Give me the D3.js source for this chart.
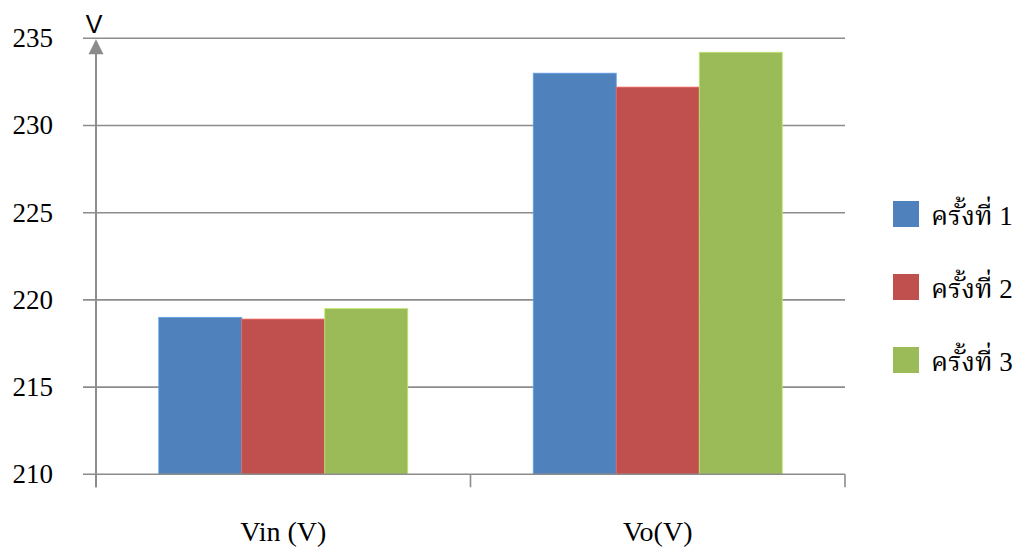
<!DOCTYPE html>
<html>
<head>
<meta charset="utf-8">
<script src="https://cdn.jsdelivr.net/npm/d3@7"></script>
<style>
  html, body { margin: 0; padding: 0; background: #fff; }
  svg { display: block; }
</style>
</head>
<body>
<svg id="chart" width="1019" height="547"></svg>
<script>
// Measurement categories and the three trial series (volts)
const categories = ["Vin (V)", "Vo(V)"];
const seriesNames = ["ครั้งที่ 1", "ครั้งที่ 2", "ครั้งที่ 3"];
const trial1 = [219.0, 233.0];
const trial2 = [218.9, 232.2];
const trial3 = [219.5, 234.2];
const yTicks = [210, 215, 220, 225, 230, 235];
const colors = ["#4f81bd", "#c0504d", "#9bbb59"];

const seriesValues = [trial1, trial2, trial3];

(function draw() {
  const svg = d3.select("#chart");
  const plotLeft = 96, plotRight = 845, plotTop = 38.3, plotBottom = 474.3;

  const y = d3.scaleLinear().domain([210, 235]).range([plotBottom, plotTop]);
  const x0 = d3.scaleBand().domain(categories).range([plotLeft, plotRight]).padding(0);
  const x1 = d3.scaleBand().domain(seriesNames).range([0, x0.bandwidth()])
    .paddingInner(0).paddingOuter(0.756);

  const gridColor = "#8c8c8c";
  const serif = "'Liberation Serif', 'Times New Roman', serif";
  const thai = "'Noto Serif Thai', 'Noto Sans Thai', 'Liberation Serif', serif";

  // Horizontal gridlines with short left tick stubs
  svg.append("g").selectAll("line").data(yTicks.slice(1)).join("line")
    .attr("x1", 83).attr("x2", plotRight)
    .attr("y1", d => y(d)).attr("y2", d => y(d))
    .attr("stroke", gridColor).attr("stroke-width", 1.6);

  // Y tick labels
  svg.append("g").selectAll("text").data(yTicks).join("text")
    .attr("x", 53).attr("y", d => y(d))
    .attr("dy", "0.33em")
    .attr("text-anchor", "end")
    .attr("font-family", serif).attr("font-size", 27)
    .attr("fill", "#000")
    .text(d => d);

  // Bars
  const groups = svg.append("g").selectAll("g").data(categories).join("g")
    .attr("transform", d => `translate(${x0(d)},0)`);
  groups.selectAll("rect")
    .data((c, ci) => seriesNames.map((s, si) => ({ s, si, v: seriesValues[si][ci] })))
    .join("rect")
    .attr("x", d => x1(d.s))
    .attr("width", x1.bandwidth())
    .attr("y", d => y(d.v))
    .attr("height", d => y(210) - y(d.v))
    .attr("fill", d => colors[d.si])
    .attr("stroke", d => d3.color(colors[d.si]).brighter(0.6))
    .attr("stroke-width", 0.8);

  // X axis line and category ticks
  svg.append("line")
    .attr("x1", 83).attr("x2", plotRight)
    .attr("y1", plotBottom).attr("y2", plotBottom)
    .attr("stroke", gridColor).attr("stroke-width", 1.6);
  const xTickPos = [plotLeft, ...categories.map(c => x0(c) + x0.bandwidth())];
  svg.append("g").selectAll("line").data(xTickPos).join("line")
    .attr("x1", d => d).attr("x2", d => d)
    .attr("y1", plotBottom).attr("y2", plotBottom + 13)
    .attr("stroke", gridColor).attr("stroke-width", 1.6);

  // Y axis with arrowhead
  svg.append("line")
    .attr("x1", plotLeft).attr("x2", plotLeft)
    .attr("y1", plotBottom + 13).attr("y2", 52)
    .attr("stroke", gridColor).attr("stroke-width", 2);
  svg.append("path")
    .attr("d", `M${plotLeft},${plotTop + 1} L${plotLeft - 7.5},${plotTop + 16} L${plotLeft + 7.5},${plotTop + 16} Z`)
    .attr("fill", gridColor);
  svg.append("text")
    .attr("x", plotLeft - 2).attr("y", 33)
    .attr("text-anchor", "middle")
    .attr("font-family", "'Liberation Sans', Arial, sans-serif")
    .attr("font-size", 25)
    .text("V");

  // Category labels
  svg.append("g").selectAll("text").data(categories).join("text")
    .attr("x", d => x0(d) + x0.bandwidth() / 2)
    .attr("y", 541)
    .attr("text-anchor", "middle")
    .attr("font-family", serif).attr("font-size", 28)
    .text(d => d);

  // Legend: Thai word and trial number set in their own fonts
  const legend = svg.append("g").selectAll("g").data(seriesNames).join("g")
    .attr("transform", (d, i) => `translate(893,${214 + i * 73})`);
  legend.append("rect")
    .attr("x", 0).attr("y", -13).attr("width", 26).attr("height", 26)
    .attr("fill", (d, i) => colors[i]);
  const lt = legend.append("text")
    .attr("x", 38).attr("y", 11)
    .attr("font-size", 27);
  lt.append("tspan")
    .attr("font-family", thai)
    .text(d => d.slice(0, d.lastIndexOf(" ")));
  lt.append("tspan")
    .attr("font-family", serif)
    .text(d => d.slice(d.lastIndexOf(" ")).replace(" ", "\u00a0"));
})();
</script>
</body>
</html>
